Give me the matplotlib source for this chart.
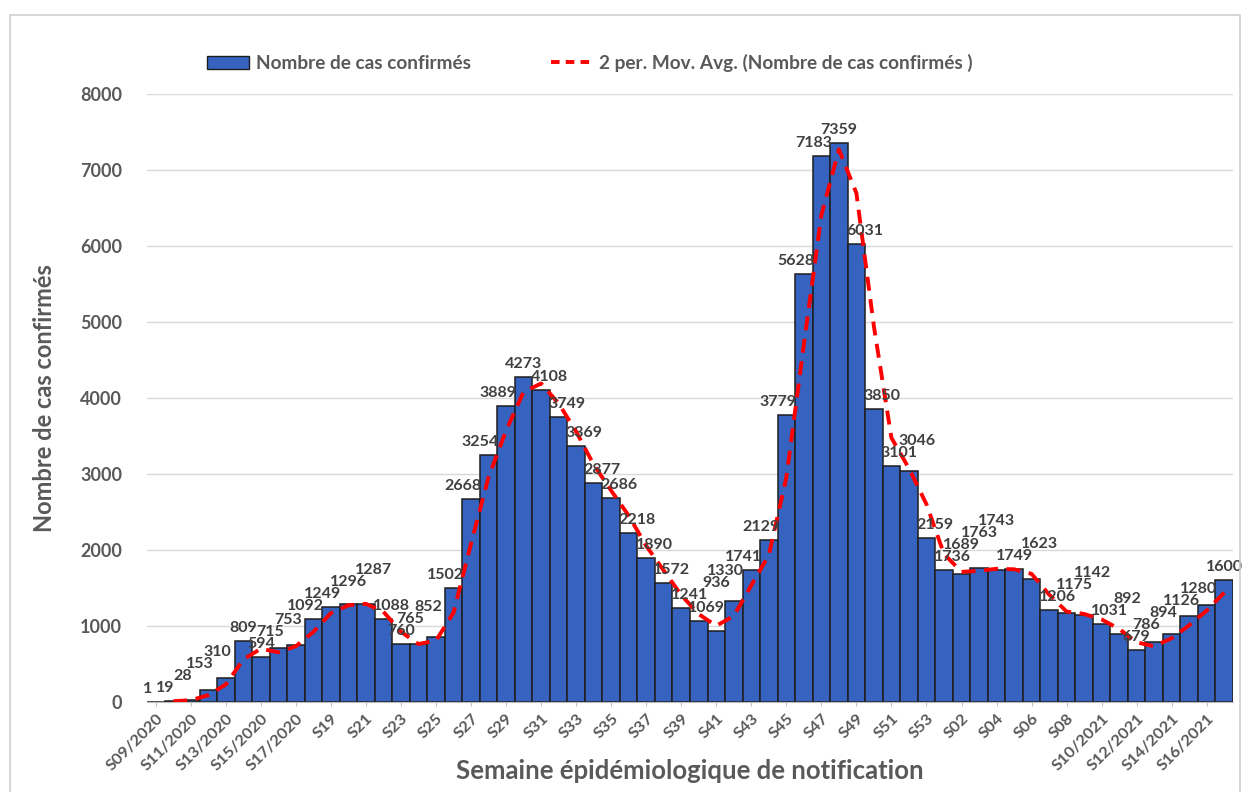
import matplotlib
matplotlib.use("Agg")
import matplotlib.pyplot as plt
import numpy as np
import pandas as pd
from matplotlib.patches import Rectangle, Patch
from matplotlib.lines import Line2D

weeks_2020 = [f"S{w:02d}/2020" for w in range(9, 54)]
weeks_2021 = [f"S{w:02d}/2021" for w in range(1, 18)]
weeks = weeks_2020 + weeks_2021

cases = [1, 19, 28, 153, 310, 809, 594, 715, 753, 1092, 1249, 1296, 1287, 1088,
         760, 765, 852, 1502, 2668, 3254, 3889, 4273, 4108, 3749, 3369, 2877,
         2686, 2218, 1890, 1572, 1241, 1069, 936, 1330, 1741, 2129, 3779, 5628,
         7183, 7359, 6031, 3850, 3101, 3046, 2159, 1736, 1689, 1763, 1743, 1749,
         1623, 1206, 1175, 1142, 1031, 892, 679, 786, 894, 1126, 1280, 1600]

tick_labels = ["S09/2020", "S11/2020", "S13/2020", "S15/2020", "S17/2020", "S19",
               "S21", "S23", "S25", "S27", "S29", "S31", "S33", "S35", "S37", "S39",
               "S41", "S43", "S45", "S47", "S49", "S51", "S53", "S02", "S04", "S06",
               "S08", "S10/2021", "S12/2021", "S14/2021", "S16/2021"]

mov_avg = pd.Series(cases).rolling(2).mean()

FONT = ["Lato", "DejaVu Sans"]
plt.rcParams['font.family'] = FONT
GRAY = "#595959"
BLUE = "#3563BF"
PX = 72 / 100  # points per pixel

fig = plt.figure(figsize=(12.46, 7.92), dpi=100)
fig.patches.append(Rectangle((10 / 1246, -0.01), 1230 / 1246, 1 - 15 / 792 + 0.01,
                             transform=fig.transFigure, fill=False,
                             edgecolor="#d0d0d0", linewidth=1.2))

ax = fig.add_axes([147 / 1246, 1 - 702 / 792, (1233 - 147) / 1246, (702 - 94) / 792])
x = np.arange(len(cases))
ax.bar(x, cases, width=1.0, color=BLUE, edgecolor="#1e1e1e", linewidth=1.1, zorder=2)
ax.plot(x, mov_avg, color="#FF0000", linestyle=(0, (3.6, 2.2)), linewidth=2.8, zorder=3)

ax.set_xlim(-0.5, len(cases) - 0.5)
ax.set_ylim(0, 8000)

# data labels, nudged sideways along the slope and staggered when they collide
anns = []
n = len(cases)
for i, v in enumerate(cases):
    prev_v = cases[i - 1] if i > 0 else v
    next_v = cases[i + 1] if i < n - 1 else v
    if next_v > v and prev_v <= v:
        dx = -8
    elif prev_v > v and next_v <= v:
        dx = 8
    else:
        dx = 0
    a = ax.annotate(str(v), (i, v), xytext=(dx * PX, 6 * PX), textcoords="offset points",
                    ha="center", va="bottom", fontsize=11.5, fontweight="bold",
                    color="#404040", zorder=4)
    anns.append(a)

fig.canvas.draw()
renderer = fig.canvas.get_renderer()
placed = []
for a in anns:
    for _ in range(10):
        bb = a.get_window_extent(renderer)
        hit = None
        for pb in placed:
            if (bb.x0 + 1 < pb.x1 and bb.x1 - 1 > pb.x0 and
                    bb.y0 + 2 < pb.y1 and bb.y1 - 2 > pb.y0):
                if hit is None or pb.y1 > hit.y1:
                    hit = pb
        if hit is None:
            break
        ox, oy = a.xyann
        a.xyann = (ox, oy + (hit.y1 - bb.y0 - 2) * PX)
    placed.append(a.get_window_extent(renderer))

ax.set_yticks(range(0, 8001, 1000))
ax.yaxis.grid(True, color="#d9d9d9", linewidth=1.0, zorder=0)
ax.set_axisbelow(True)
for s in ["top", "right", "left"]:
    ax.spines[s].set_visible(False)
ax.spines["bottom"].set_color("#bfbfbf")
ax.tick_params(axis="y", length=0, pad=18, labelsize=13, labelcolor=GRAY)
for lab in ax.get_yticklabels():
    lab.set_fontweight("bold")

tick_pos = list(range(0, len(cases), 2))
ax.set_xticks(tick_pos)
ax.set_xticklabels(tick_labels, rotation=45, ha="right", rotation_mode="anchor",
                   fontsize=11.8, fontweight="bold", color=GRAY)
ax.tick_params(axis="x", length=3, color="#bfbfbf", pad=4)

ax.set_ylabel("Nombre de cas confirmés", fontsize=17, fontweight="bold", color=GRAY)
ax.yaxis.set_label_coords(-0.084, 0.5)
ax.set_xlabel("Semaine épidémiologique de notification", fontsize=18.5,
              fontweight="bold", color=GRAY)
ax.xaxis.set_label_coords(0.5, -0.093)

handles = [Patch(facecolor=BLUE, edgecolor="#1e1e1e"),
           Line2D([0], [0], color="#FF0000", linestyle=(0, (2.2, 1.6)), linewidth=2.8)]
labels = ["Nombre de cas confirmés", "2 per. Mov. Avg. (Nombre de cas confirmés )"]
leg = fig.legend(handles, labels, loc="center", bbox_to_anchor=(590 / 1246, 1 - 63 / 792),
                 ncol=2, frameon=False, fontsize=13.7, handlelength=2.2, columnspacing=4.2,
                 handletextpad=0.35, handleheight=0.7)
for t in leg.get_texts():
    t.set_color(GRAY)
    t.set_fontweight("bold")

fig.savefig("out.png", dpi=100)
